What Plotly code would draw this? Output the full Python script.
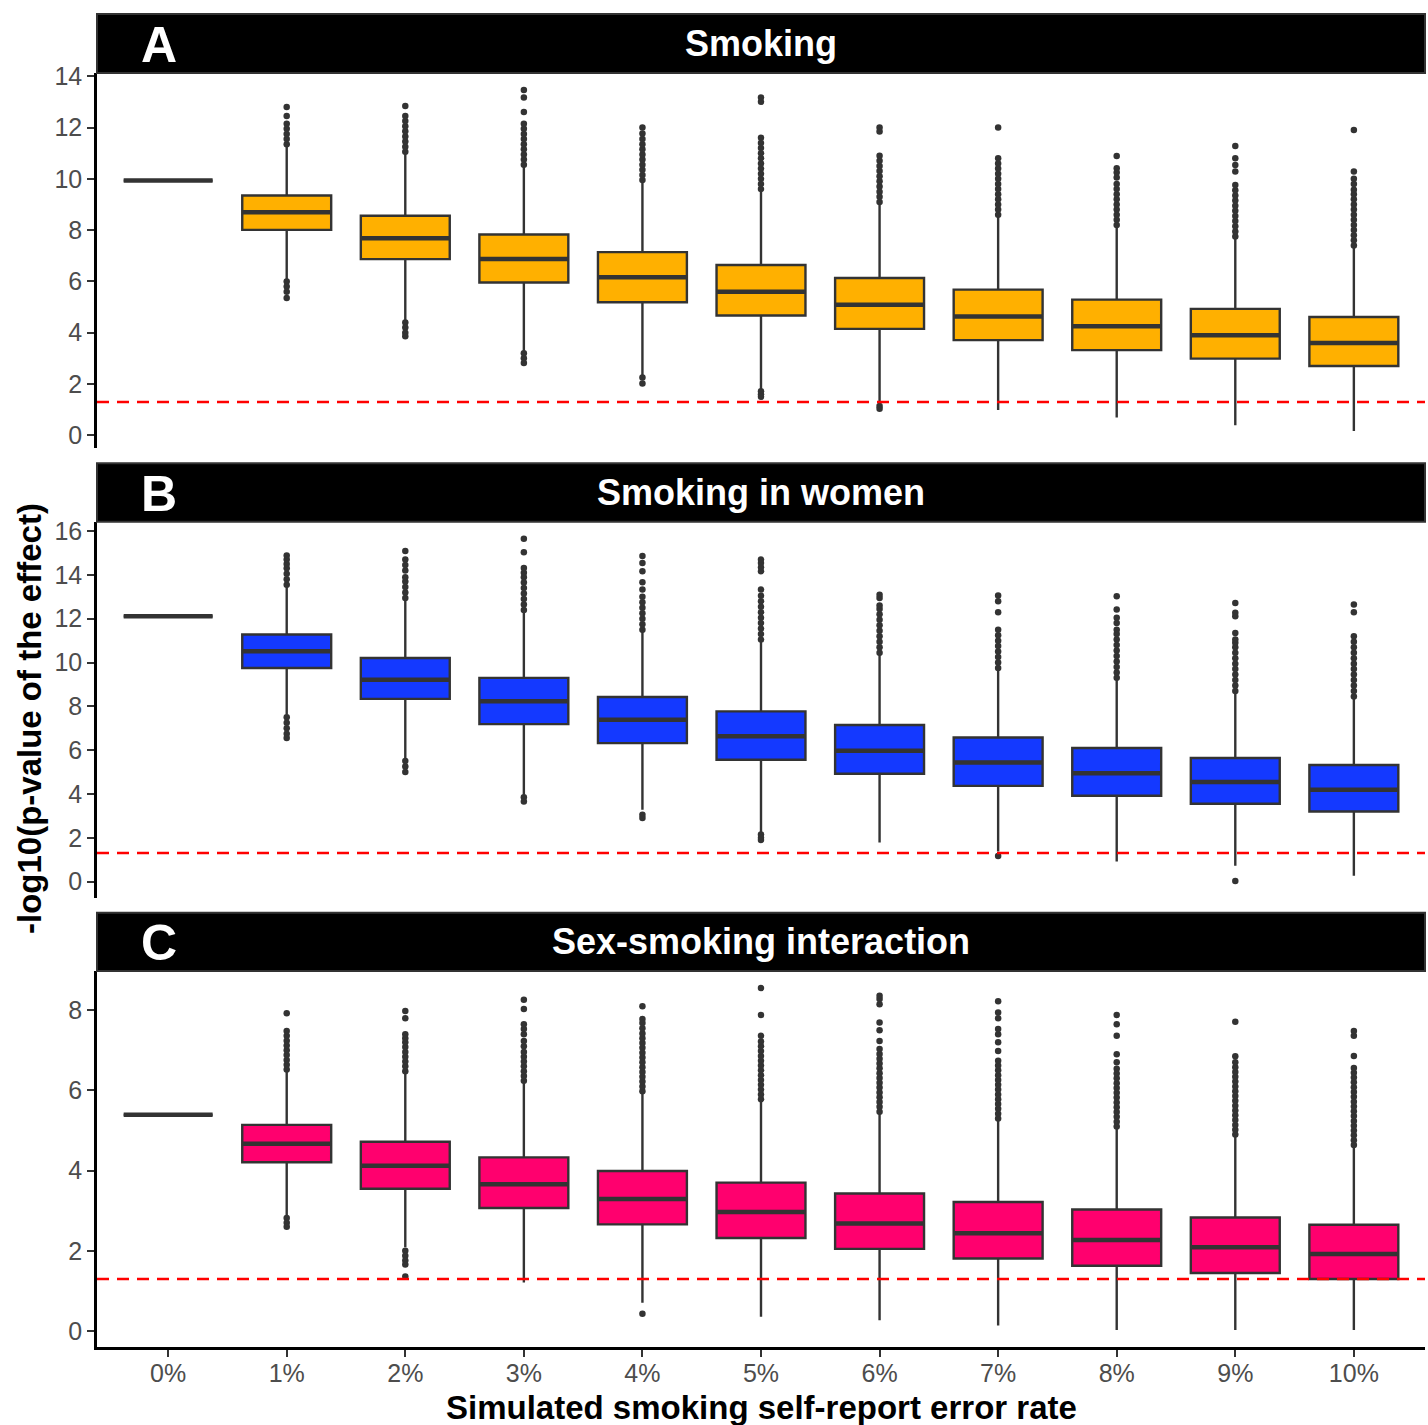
import plotly.graph_objects as go

categories = ["0%", "1%", "2%", "3%", "4%", "5%", "6%", "7%", "8%", "9%", "10%"]

panel_titles = ["Smoking", "Smoking in women", "Sex-smoking interaction"]
panel_tags = ["A", "B", "C"]
panel_colors = ["#FFB000", "#1439FF", "#FF006E"]

# ---- Panel A: Smoking ----
a_lower = [9.93, 6.09, 4.49, 3.28, 2.31, 1.81, 1.34, 0.99, 0.69, 0.39, 0.17]
a_q1 = [9.93, 8.01, 6.87, 5.96, 5.19, 4.67, 4.15, 3.71, 3.32, 2.99, 2.70]
a_median = [9.93, 8.70, 7.68, 6.87, 6.16, 5.60, 5.09, 4.63, 4.25, 3.90, 3.60]
a_q3 = [9.93, 9.35, 8.56, 7.83, 7.14, 6.64, 6.13, 5.68, 5.29, 4.93, 4.61]
a_upper = [9.93, 11.25, 10.97, 10.47, 9.89, 9.50, 8.98, 8.53, 8.14, 7.69, 7.36]
a_outliers = [
    [],
    [11.35, 11.55, 11.75, 11.95, 12.15, 12.45, 12.8, 6.0, 5.8, 5.6, 5.35],
    [11.05, 11.25, 11.45, 11.65, 11.85, 12.05, 12.25, 12.45, 12.84, 4.4, 4.2, 4.0, 3.86],
    [10.55, 10.75, 10.95, 11.15, 11.35, 11.55, 11.75, 11.95, 12.15, 12.6, 13.17, 13.46, 3.2, 3.0, 2.82],
    [9.95, 10.15, 10.35, 10.55, 10.75, 10.95, 11.15, 11.35, 11.55, 11.77, 12.0, 2.25, 2.02],
    [9.6, 9.8, 10.0, 10.2, 10.4, 10.6, 10.8, 11.0, 11.2, 11.4, 11.6, 13.0, 13.17, 1.72, 1.6, 1.5],
    [9.1, 9.3, 9.5, 9.7, 9.9, 10.1, 10.3, 10.5, 10.7, 10.9, 11.84, 12.0, 1.14, 1.04],
    [8.6, 8.8, 9.0, 9.2, 9.4, 9.6, 9.8, 10.0, 10.2, 10.4, 10.6, 10.8, 12.0],
    [8.2, 8.4, 8.6, 8.8, 9.0, 9.2, 9.4, 9.6, 9.8, 10.05, 10.25, 10.41, 10.89],
    [7.75, 7.95, 8.15, 8.35, 8.55, 8.75, 8.95, 9.15, 9.35, 9.55, 9.76, 10.28, 10.54, 10.8, 11.28],
    [7.4, 7.6, 7.8, 8.0, 8.2, 8.4, 8.6, 8.8, 9.0, 9.2, 9.4, 9.57, 9.8, 10.0, 10.28, 11.9],
]

# ---- Panel B: Smoking in women ----
b_lower = [12.11, 7.62, 5.59, 3.96, 3.28, 2.24, 1.78, 1.37, 0.91, 0.72, 0.26]
b_q1 = [12.11, 9.75, 8.34, 7.19, 6.32, 5.56, 4.92, 4.37, 3.92, 3.55, 3.20]
b_median = [12.11, 10.51, 9.22, 8.23, 7.39, 6.63, 5.97, 5.44, 4.95, 4.54, 4.19]
b_q3 = [12.11, 11.28, 10.21, 9.30, 8.43, 7.77, 7.15, 6.58, 6.10, 5.64, 5.32]
b_upper = [12.11, 13.49, 12.88, 12.30, 11.43, 10.97, 10.36, 9.68, 9.22, 8.64, 8.38]
b_outliers = [
    [],
    [13.55, 13.8, 14.05, 14.3, 14.5, 14.7, 14.89, 7.5, 7.25, 7.0, 6.75, 6.55],
    [12.95, 13.2, 13.45, 13.7, 13.9, 14.2, 14.45, 14.7, 15.09, 5.5, 5.25, 5.0],
    [12.4, 12.65, 12.9, 13.15, 13.4, 13.65, 13.9, 14.1, 14.32, 15.04, 15.65, 3.85, 3.65],
    [11.5, 11.75, 12.0, 12.25, 12.5, 12.75, 13.0, 13.33, 13.67, 14.17, 14.55, 14.86, 3.05, 2.9],
    [11.05, 11.3, 11.55, 11.8, 12.05, 12.3, 12.55, 12.8, 13.05, 13.33, 14.17, 14.35, 14.55, 14.7, 2.15, 2.0, 1.9],
    [10.45, 10.7, 10.95, 11.2, 11.45, 11.7, 11.95, 12.2, 12.45, 12.6, 12.95, 13.1],
    [9.75, 10.0, 10.25, 10.5, 10.75, 11.0, 11.25, 11.5, 12.3, 12.8, 13.06, 1.17],
    [9.3, 9.55, 9.8, 10.05, 10.3, 10.55, 10.8, 11.05, 11.3, 11.5, 11.8, 12.04, 12.42, 13.03],
    [8.7, 8.95, 9.2, 9.45, 9.7, 9.95, 10.2, 10.45, 10.7, 10.9, 11.05, 11.35, 12.11, 12.27, 12.72, 0.03],
    [8.45, 8.7, 8.95, 9.2, 9.45, 9.7, 9.95, 10.2, 10.45, 10.7, 10.95, 11.2, 12.3, 12.65],
]

# ---- Panel C: Sex-smoking interaction ----
c_lower = [5.39, 2.88, 2.09, 1.21, 0.71, 0.36, 0.27, 0.14, 0.03, 0.03, 0.03]
c_q1 = [5.39, 4.21, 3.55, 3.07, 2.66, 2.32, 2.05, 1.81, 1.63, 1.45, 1.30]
c_median = [5.39, 4.67, 4.12, 3.66, 3.29, 2.97, 2.68, 2.44, 2.27, 2.09, 1.92]
c_q3 = [5.39, 5.14, 4.72, 4.33, 3.99, 3.70, 3.43, 3.22, 3.03, 2.83, 2.65]
c_upper = [5.39, 6.48, 6.44, 6.19, 5.94, 5.73, 5.43, 5.27, 5.06, 4.85, 4.60]
c_outliers = [
    [],
    [6.52, 6.64, 6.76, 6.88, 7.0, 7.12, 7.24, 7.36, 7.48, 7.92, 2.82, 2.7, 2.6],
    [6.48, 6.6, 6.72, 6.84, 6.96, 7.08, 7.2, 7.3, 7.4, 7.8, 7.98, 2.0, 1.88, 1.76, 1.66, 1.36],
    [6.24, 6.36, 6.48, 6.6, 6.72, 6.84, 6.96, 7.1, 7.23, 7.4, 7.53, 7.65, 8.03, 8.26],
    [5.98, 6.1, 6.22, 6.34, 6.46, 6.58, 6.7, 6.82, 6.94, 7.06, 7.18, 7.3, 7.42, 7.55, 7.68, 7.78, 8.1, 0.43],
    [5.78, 5.9, 6.02, 6.14, 6.26, 6.38, 6.5, 6.62, 6.74, 6.86, 6.98, 7.1, 7.22, 7.36, 7.88, 8.55],
    [5.47, 5.59, 5.71, 5.83, 5.95, 6.07, 6.19, 6.31, 6.43, 6.55, 6.67, 6.79, 6.91, 7.03, 7.23, 7.5, 7.69, 8.15, 8.28, 8.36],
    [5.3, 5.42, 5.54, 5.66, 5.78, 5.9, 6.02, 6.14, 6.26, 6.38, 6.5, 6.62, 6.74, 6.98, 7.2, 7.4, 7.53, 7.8, 7.94, 8.22],
    [5.1, 5.22, 5.34, 5.46, 5.58, 5.7, 5.82, 5.94, 6.06, 6.18, 6.3, 6.42, 6.54, 6.7, 6.9, 7.36, 7.65, 7.88],
    [4.9, 5.02, 5.14, 5.26, 5.38, 5.5, 5.62, 5.74, 5.86, 5.98, 6.1, 6.22, 6.34, 6.46, 6.58, 6.7, 6.85, 7.71],
    [4.64, 4.76, 4.88, 5.0, 5.12, 5.24, 5.36, 5.48, 5.6, 5.72, 5.84, 5.96, 6.08, 6.2, 6.32, 6.44, 6.56, 6.86, 7.36, 7.48],
]

threshold = 1.30103  # -log10(0.05)

panels = [
    (a_lower, a_q1, a_median, a_q3, a_upper, a_outliers),
    (b_lower, b_q1, b_median, b_q3, b_upper, b_outliers),
    (c_lower, c_q1, c_median, c_q3, c_upper, c_outliers),
]

# ---------------- layout geometry (pixels) ----------------
W, H = 1428, 1425
X_LEFT, X_RIGHT = 97, 1425
plot_px = [(73, 448), (521.7, 898), (971, 1347)]   # (top, bottom) of each panel
strip_px = [(14, 73), (463.3, 521.7), (912.7, 971)]

FONT = "Liberation Sans, Arial, Helvetica, sans-serif"
DARK = "#333333"

def py(p):
    return (H - p) / H

def px_x(p):
    return p / W

fig = go.Figure()
layout = dict(
    width=W, height=H,
    margin=dict(l=0, r=0, t=0, b=0, pad=0, autoexpand=False),
    paper_bgcolor="white", plot_bgcolor="white",
    showlegend=False,
    font=dict(family=FONT),
    shapes=[], annotations=[],
)

for i, (lo, q1, med, q3, up, outs) in enumerate(panels):
    n = i + 1
    xa = "x" if n == 1 else f"x{n}"
    ya = "y" if n == 1 else f"y{n}"
    xkey = "xaxis" if n == 1 else f"xaxis{n}"
    ykey = "yaxis" if n == 1 else f"yaxis{n}"

    # main boxes
    fig.add_trace(go.Box(
        x=categories, q1=q1, median=med, q3=q3, lowerfence=lo, upperfence=up,
        fillcolor=panel_colors[i], line=dict(color=DARK, width=2.4),
        width=0.75, whiskerwidth=0, boxpoints=False,
        xaxis=xa, yaxis=ya, hoverinfo="skip",
    ))
    # thick median bars
    fig.add_trace(go.Box(
        x=categories, q1=med, median=med, q3=med, lowerfence=med, upperfence=med,
        fillcolor="rgba(0,0,0,0)", line=dict(color=DARK, width=4.5),
        width=0.75, whiskerwidth=0, boxpoints=False,
        xaxis=xa, yaxis=ya, hoverinfo="skip",
    ))
    # outliers
    ox, oy = [], []
    for cat, vals in zip(categories, outs):
        ox += [cat] * len(vals)
        oy += vals
    fig.add_trace(go.Scatter(
        x=ox, y=oy, mode="markers",
        marker=dict(color=DARK, size=6.5, line=dict(width=0)),
        xaxis=xa, yaxis=ya, hoverinfo="skip",
    ))

    allv = lo + up + [v for o in outs for v in o]
    vmin, vmax = min(allv), max(allv)
    span = vmax - vmin
    yr = [vmin - 0.05 * span, vmax + 0.05 * span]

    top, bot = plot_px[i]
    last = (n == 3)
    layout[xkey] = dict(
        domain=[px_x(X_LEFT), px_x(X_RIGHT)], anchor=ya,
        type="category", categoryorder="array", categoryarray=categories,
        range=[-0.6, 10.6],
        showgrid=False, zeroline=False,
        showline=last, linecolor="black", linewidth=2.5,
        ticks="outside" if last else "", ticklen=7, tickwidth=2, tickcolor=DARK,
        showticklabels=last,
        tickfont=dict(size=25, color="#4D4D4D", family=FONT),
        ticklabelstandoff=-5,
        automargin=False,
    )
    if not last:
        layout[xkey]["matches"] = "x3"
    layout[ykey] = dict(
        domain=[py(bot), py(top)], anchor=xa,
        range=yr, dtick=2, tick0=0,
        showgrid=False, zeroline=False,
        showline=True, linecolor="black", linewidth=2.5,
        ticks="outside", ticklen=7, tickwidth=2, tickcolor=DARK,
        tickfont=dict(size=25, color="#4D4D4D", family=FONT),
        ticklabelstandoff=0, automargin=False,
    )

    # threshold line
    layout["shapes"].append(dict(
        type="line", xref=f"{xa} domain", yref=ya, x0=0, x1=1,
        y0=threshold, y1=threshold, layer="above",
        line=dict(color="#FF0000", width=2.5, dash="12px,8px"),
    ))

    # strip
    st, sb = strip_px[i]
    layout["shapes"].append(dict(
        type="rect", xref="paper", yref="paper",
        x0=px_x(X_LEFT), x1=px_x(X_RIGHT), y0=py(sb), y1=py(st),
        fillcolor="black", line=dict(color=DARK, width=2), layer="above",
    ))
    layout["annotations"].append(dict(
        text=f"<b>{panel_titles[i]}</b>", xref="paper", yref="paper",
        x=px_x((X_LEFT + X_RIGHT) / 2), y=py((st + sb) / 2),
        xanchor="center", yanchor="middle", showarrow=False,
        font=dict(size=36, color="white", family=FONT),
    ))
    layout["annotations"].append(dict(
        text=f"<b>{panel_tags[i]}</b>", xref="paper", yref="paper",
        x=px_x(159), y=py((st + sb) / 2 + 1),
        xanchor="center", yanchor="middle", showarrow=False,
        font=dict(size=50, color="white", family=FONT),
    ))

# axis titles
layout["annotations"].append(dict(
    text="<b>Simulated smoking self-report error rate</b>", xref="paper", yref="paper",
    x=px_x((X_LEFT + X_RIGHT) / 2), y=py(1407),
    xanchor="center", yanchor="middle", showarrow=False,
    font=dict(size=33, color="black", family=FONT),
))
layout["annotations"].append(dict(
    text="<b>-log10(p-value of the effect)</b>", xref="paper", yref="paper",
    x=px_x(29), y=py(719), textangle=-90,
    xanchor="center", yanchor="middle", showarrow=False,
    font=dict(size=33, color="black", family=FONT),
))

fig.update_layout(**layout)
fig.write_html(
    "out.html",
    config={"displayModeBar": False},
    post_script="document.body.style.margin='0';document.body.style.padding='0';"
                "document.documentElement.style.overflow='hidden';",
)
